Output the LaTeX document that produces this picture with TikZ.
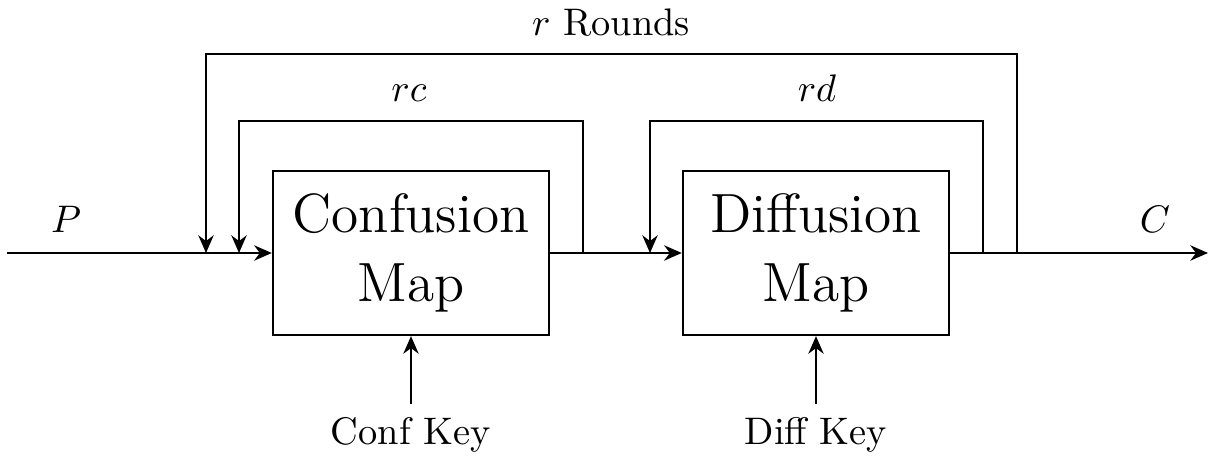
\documentclass[tikz,border=0pt]{standalone}
\usepackage{amsmath}
\usepackage{tikz}
\usetikzlibrary{arrows.meta}
\tikzset{
FLOW/.style ={draw=black,line cap=butt,line width=0.6pt,>={Stealth[length=4.6pt,width=4pt]}},
MAP/.style={draw=black,line width=0.6pt,font=\Large,align=center,minimum height=42.7pt,inner sep=0pt},
LABEL/.style={anchor=base,inner sep=0pt},
}
\begin{document}
\begin{tikzpicture} %Confusion--diffusion rounds
[x=0.2604pt, y=-0.2604pt]
	\useasboundingbox (0,0) rectangle (1208,457);
	\node[MAP, minimum width=71.9pt] (conf) at (411,253) {Confusion\\Map};
	\node[MAP, minimum width=69.3pt] (diff) at (816,253) {Diffusion\\Map};
	\node[anchor=base] (confkey) at (411,445) {Conf Key};
	\node[anchor=base] (diffkey) at (816,445) {Diff Key};
	\coordinate (in) at (7,253);
	\coordinate (out) at (1208,253);
	\coordinate (rcout) at (583,253);
	\coordinate (rcin) at (239,253);
	\coordinate (rdout) at (983,253);
	\coordinate (rdin) at (650,253);
	\coordinate (rout) at (1017,253);
	\coordinate (rin) at (206,253);
	\path[FLOW,->] (in) -- (conf);
	\path[FLOW,->] (conf) -- (diff);
	\path[FLOW,->] (diff) -- (out);
	\path[FLOW,->] (confkey) -- (conf);
	\path[FLOW,->] (diffkey) -- (diff);
	\path[FLOW,->] (rcout) -- ++(0,-132) -| (rcin);
	\path[FLOW,->] (rdout) -- ++(0,-132) -| (rdin);
	\path[FLOW,->] (rout) -- ++(0,-199) -| (rin);
	\node[LABEL] (p) at (66,233) {$P$};
	\node[LABEL] (c) at (1155,233) {$C$};
	\node[LABEL] (rc) at (409,102) {$rc$};
	\node[LABEL] (rd) at (817,102) {$rd$};
	\node[LABEL] (rounds) at (611,36) {$r$ Rounds};
\end{tikzpicture}
\end{document}
